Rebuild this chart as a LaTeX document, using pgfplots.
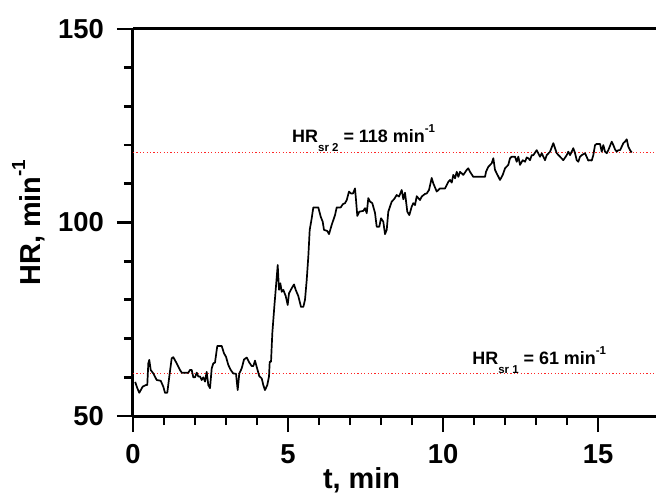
\documentclass[border=0pt]{standalone}
\usepackage{fontspec}
\setmainfont{Liberation Sans}
\usepackage{pgfplots}
\pgfplotsset{compat=1.18}
\newcommand{\subs}[1]{\raisebox{-0.5em}{\fontsize{11.5}{11.5}\selectfont #1}}
\newcommand{\sups}[1]{\raisebox{0.6em}{\fontsize{11.5}{11.5}\selectfont #1}}
\begin{document}
\begin{tikzpicture}
\begin{axis}[
  name=ax,
  scale only axis,
  width=523bp, height=387bp,
  xmin=0, xmax=16.87, ymin=50, ymax=150,
  xtick={0,5,10,15}, minor x tick num=4,
  ytick={50,100,150}, minor y tick num=4,
  axis x line=box, axis y line=left,
  axis line style={-, line width=3bp},
  xtick pos=left, ytick pos=left,
  tick align=outside,
  major tick length=16bp, minor tick length=9bp,
  every tick/.style={black, line width=2.8bp},
  /pgf/number format/assume math mode=true,
  ticklabel style={font=\bfseries\fontsize{27.5}{30}\selectfont},
  xticklabel style={anchor=north, inner sep=0pt, yshift=-12bp},
  yticklabel style={anchor=east, inner sep=0pt, xshift=-13bp},
  xlabel={t, min},
  ylabel={HR, min\raisebox{0.55em}{\fontsize{19}{19}\selectfont -1}},
  label style={font=\bfseries\fontsize{29}{30}\selectfont},
  xlabel style={at={(axis description cs:0.437,0)}, anchor=base, yshift=-72bp},
  ylabel style={at={(axis description cs:0,0.5)}, anchor=base, yshift=92bp},
  clip=false,
]
\addplot[red!85, line width=0.9bp, dash pattern=on 1.2bp off 2.2bp] coordinates {(0,118) (16.87,118)};
\addplot[red!85, line width=0.9bp, dash pattern=on 1.2bp off 2.2bp] coordinates {(0,61) (16.87,61)};
\addplot[black, line width=1.7bp, line join=round] table {
t hr
0.07 58.8
0.139 57.2
0.203 56.0
0.313 57.6
0.419 58.0
0.461 58.0
0.494 63.6
0.526 64.5
0.571 61.9
0.655 61.0
0.765 59.3
0.894 59.1
0.977 57.6
1.032 56.0
1.106 56.0
1.171 60.2
1.248 64.9
1.300 65.2
1.410 63.6
1.516 61.9
1.571 61.2
1.784 61.2
1.839 61.9
1.894 61.9
1.945 60.0
2.000 60.0
2.055 61.2
2.106 60.2
2.161 60.2
2.216 59.3
2.268 60.0
2.323 58.9
2.377 61.4
2.429 58.0
2.484 57.2
2.539 62.3
2.590 63.6
2.645 63.8
2.719 68.1
2.861 68.1
2.935 66.2
3.000 65.3
3.074 63.2
3.152 61.9
3.235 61.0
3.323 60.9
3.377 56.7
3.429 61.0
3.506 62.3
3.581 64.6
3.668 65.1
3.752 63.8
3.829 62.9
3.881 62.9
3.935 64.3
3.990 62.7
4.074 60.3
4.152 59.7
4.203 58.0
4.258 56.7
4.332 58.0
4.387 60.2
4.410 64.0
4.452 64.0
4.494 71.4
4.558 78.2
4.668 89.0
4.710 82.6
4.752 84.3
4.797 82.1
4.848 82.6
4.926 81.0
4.990 78.7
5.032 81.7
5.119 83.0
5.194 84.0
5.248 82.6
5.332 81.0
5.419 78.2
5.494 78.2
5.548 80.0
5.603 85.1
5.655 91.2
5.700 98.1
5.765 101.1
5.816 103.9
5.977 103.9
6.055 101.5
6.119 100.2
6.161 98.1
6.268 97.8
6.323 97.0
6.410 99.4
6.516 101.9
6.571 103.9
6.700 103.9
6.765 104.7
6.839 105.0
6.894 105.8
6.968 108.0
7.032 107.5
7.097 107.5
7.161 108.8
7.194 105.8
7.235 101.7
7.300 102.8
7.429 103.0
7.484 103.7
7.539 102.4
7.590 106.3
7.645 105.4
7.719 105.0
7.806 102.5
7.861 98.9
7.945 98.9
8.000 101.1
8.074 100.2
8.129 97.0
8.184 98.1
8.235 102.8
8.345 105.4
8.419 106.0
8.506 107.1
8.581 106.7
8.668 108.4
8.719 106.0
8.774 107.7
8.848 102.8
8.913 101.9
8.990 104.1
9.042 105.0
9.097 104.5
9.152 106.8
9.203 106.3
9.258 105.8
9.313 106.7
9.419 107.4
9.474 107.5
9.548 108.4
9.635 111.5
9.687 110.1
9.797 108.0
9.903 108.8
10.065 108.8
10.171 110.5
10.226 111.0
10.281 110.3
10.332 112.3
10.387 111.4
10.442 113.1
10.494 111.8
10.548 113.1
10.655 112.3
10.765 113.6
10.816 114.0
10.871 113.1
10.977 111.8
11.087 111.8
11.248 111.8
11.355 111.8
11.387 113.1
11.461 114.4
11.571 115.3
11.623 116.6
11.677 113.6
11.732 112.7
11.839 111.0
11.926 112.3
12.000 114.0
12.106 114.9
12.161 116.6
12.216 117.0
12.323 117.0
12.377 115.7
12.429 117.0
12.484 114.9
12.571 116.1
12.645 115.7
12.700 116.8
12.752 116.6
12.806 116.1
12.861 117.4
12.913 117.4
13.023 118.7
13.129 117.0
13.184 117.9
13.290 116.1
13.345 117.4
13.452 118.3
13.558 120.5
13.613 119.2
13.668 117.9
13.774 117.0
13.881 116.1
13.990 117.4
14.042 118.3
14.097 117.4
14.203 119.2
14.258 117.9
14.313 116.1
14.365 115.7
14.419 117.0
14.474 117.4
14.581 117.9
14.687 116.0
14.742 116.1
14.797 116.0
14.848 117.4
14.903 120.0
14.958 120.3
15.065 120.3
15.119 118.3
15.171 120.0
15.226 118.3
15.281 117.9
15.332 118.7
15.442 120.9
15.494 120.0
15.548 118.9
15.603 118.3
15.655 118.7
15.710 118.7
15.765 119.6
15.816 120.5
15.871 120.9
15.926 121.5
15.977 119.6
16.032 118.7
16.087 118.1
};
\node[anchor=base west, inner sep=0pt, font=\bfseries\fontsize{18}{18}\selectfont] at (axis cs:5.13,120.6) {HR\subs{sr 2} = 118 min\sups{-1}};
\node[anchor=base west, inner sep=0pt, font=\bfseries\fontsize{18}{18}\selectfont] at (axis cs:10.94,63.2) {HR\subs{sr 1} = 61 min\sups{-1}};
\end{axis}
\pgfresetboundingbox
\path[use as bounding box] ([xshift=-133bp,yshift=-77bp]ax.south west) rectangle ([yshift=29bp]ax.north east);
\end{tikzpicture}
\end{document}
